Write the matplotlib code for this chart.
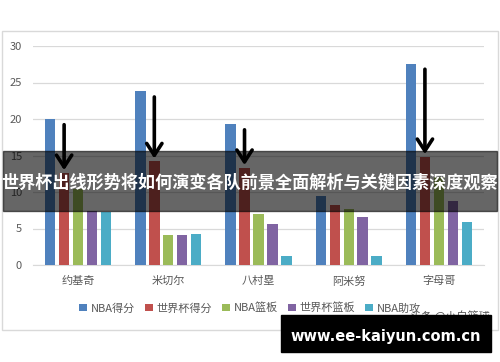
import matplotlib.pyplot as plt
import numpy as np
from matplotlib.patches import Rectangle

plt.rcParams['font.family'] = ['Noto Sans CJK SC', 'DejaVu Sans']

# datos
jugadores = ['约基奇', '米切尔', '八村塁', '阿米努', '字母哥']
series = ['NBA得分', '世界杯得分', 'NBA篮板', '世界杯篮板', 'NBA助攻']
nba_pts = [20.0, 23.8, 19.3, 9.4, 27.6]
wc_pts = [12.6, 14.2, 13.3, 8.2, 14.8]
nba_reb = [10.4, 4.1, 7.0, 7.7, 12.1]
wc_reb = [7.4, 4.1, 5.6, 6.6, 8.8]
nba_ast = [7.2, 4.2, 1.2, 1.2, 5.9]
colores = ['#4F81BD', '#C0504D', '#9BBB59', '#8064A2', '#4BACC6']
titulo = '世界杯出线形势将如何演变各队前景全面解析与关键因素深度观察'

valores = [nba_pts, wc_pts, nba_reb, wc_reb, nba_ast]

fig = plt.figure(figsize=(5, 3.62), dpi=100)
W, H = 500, 362

# marco del grafico
fig.patches.append(Rectangle((2 / W, 1 - 330 / H), 496 / W, 299 / H,
                             transform=fig.transFigure, fill=False,
                             edgecolor='#D9D9D9', lw=1.0))

ax = fig.add_axes([33 / W, 1 - 265 / H, 451 / W, 219 / H])
x = np.arange(len(jugadores))
paso = 0.155
ancho = 0.115
for i, (s, v) in enumerate(zip(series, valores)):
    ax.bar(x + (i - 2) * paso, v, ancho, color=colores[i], label=s, zorder=3)

ax.set_xlim(-0.5, len(jugadores) - 0.5)
ax.set_ylim(0, 30)
ax.set_yticks(range(0, 31, 5))
ax.set_xticks(x)
ax.set_xticklabels(jugadores)
ax.grid(axis='y', color='#D9D9D9', lw=0.9, zorder=0)
for sp in ['top', 'right', 'left']:
    ax.spines[sp].set_visible(False)
ax.spines['bottom'].set_color('#D9D9D9')
ax.tick_params(axis='both', length=0, colors='#595959', labelsize=8)
ax.tick_params(axis='x', pad=8)
ax.tick_params(axis='y', pad=8)

# flechas
for i in [0, 1, 2, 4]:
    ax.annotate('', xy=(x[i] - paso, wc_pts[i]), xytext=(x[i] - paso, nba_pts[i] - 0.4),
                arrowprops=dict(arrowstyle='->,head_length=0.85,head_width=0.55',
                                color='black', lw=2.6), zorder=5)

fig.legend(loc='center', bbox_to_anchor=(0.5, 1 - 308 / H), ncol=5, frameon=False,
           fontsize=8, handlelength=0.7, handleheight=0.7, handletextpad=0.35,
           columnspacing=0.9, labelcolor='#595959')

# banda
fig.patches.append(Rectangle((3 / W, 1 - 211 / H), 494 / W, 60 / H,
                             transform=fig.transFigure, color='black', alpha=0.6,
                             zorder=10))
fig.text(0.5, 1 - 183 / H, titulo, color='white', fontsize=12.3, fontweight='bold',
         ha='center', va='center', zorder=11)

# marca de agua
fig.text(490 / W, 1 - 316 / H, '头条 @小白篮球', color='#555555', fontsize=8,
         ha='right', va='center', zorder=11)
fig.patches.append(Rectangle((281 / W, 1 - 352 / H), 210 / W, 37 / H,
                             transform=fig.transFigure, color='black', zorder=12))
fig.text(386 / W, 1 - 337 / H, 'www.ee-kaiyun.com.cn', color='white', fontsize=10.5,
         fontweight='bold', ha='center', va='center', zorder=13,
         family='DejaVu Sans')

plt.savefig('out.png', dpi=100)
plt.close()
